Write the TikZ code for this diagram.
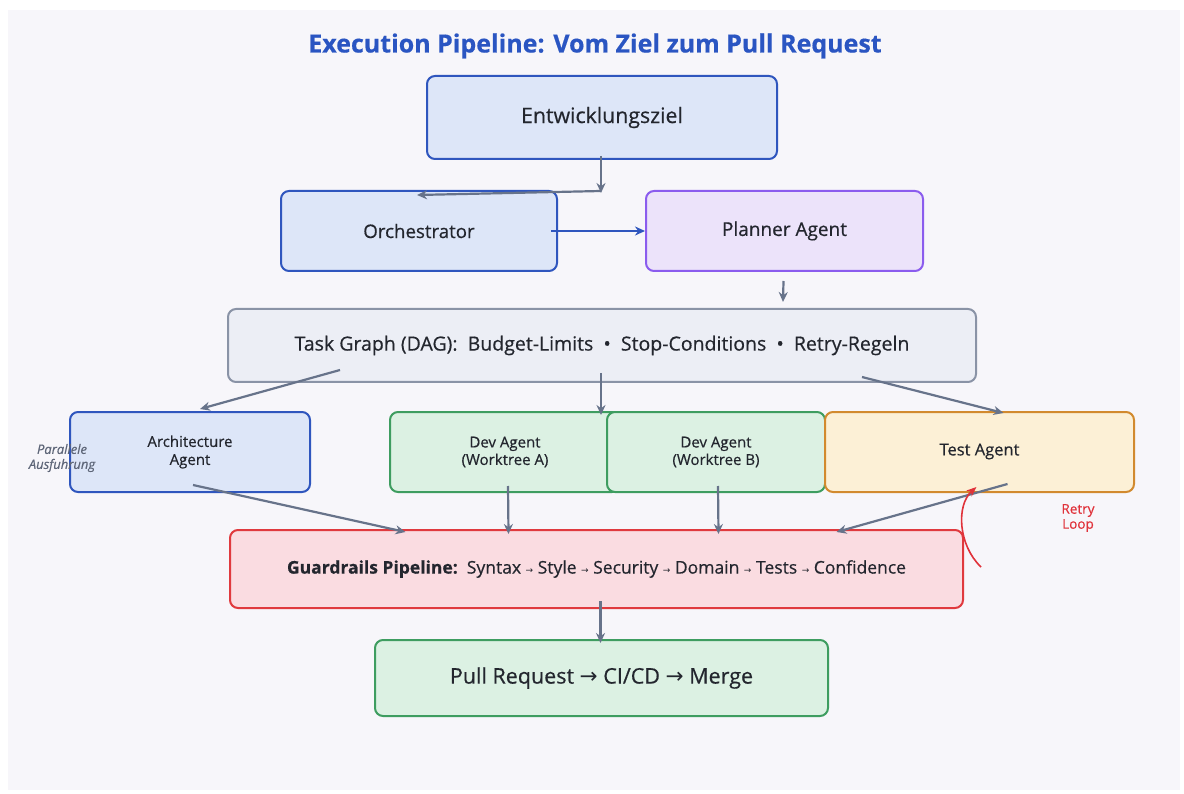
\documentclass[tikz,border=0pt]{standalone}
\usepackage{fontspec}
\setmainfont{Open Sans}[FakeBold=0.5]
\newfontfamily\symfont{DejaVu Sans}
\usetikzlibrary{arrows.meta,calc}

\definecolor{bgpanel}{HTML}{F7F6FA}
\definecolor{txt}{HTML}{23262E}
\definecolor{titleblue}{HTML}{2A55C2}
\definecolor{blueline}{HTML}{2F56BE}
\definecolor{bluefill}{HTML}{DDE6F8}
\definecolor{purpleline}{HTML}{8B5CEE}
\definecolor{purplefill}{HTML}{ECE3FA}
\definecolor{grayline}{HTML}{8A93A6}
\definecolor{grayfill}{HTML}{ECEEF5}
\definecolor{greenline}{HTML}{3E9D60}
\definecolor{greenfill}{HTML}{DCF1E3}
\definecolor{orangeline}{HTML}{D28A2E}
\definecolor{orangefill}{HTML}{FCF0D6}
\definecolor{redline}{HTML}{E03A3E}
\definecolor{redfill}{HTML}{FADCE1}
\definecolor{arrowgray}{HTML}{67738A}
\definecolor{loopred}{HTML}{E0323A}
\definecolor{notegray}{HTML}{5E6678}

\newcommand{\ra}{{\symfont\char"2192}}

\tikzset{
  box/.style={rounded corners=8pt, line width=2pt, align=center, text=txt,
              inner sep=0pt},
  bluebox/.style={box, draw=blueline, fill=bluefill},
  purplebox/.style={box, draw=purpleline, fill=purplefill},
  graybox/.style={box, draw=grayline, fill=grayfill},
  greenbox/.style={box, draw=greenline, fill=greenfill},
  orangebox/.style={box, draw=orangeline, fill=orangefill},
  redbox/.style={box, draw=redline, fill=redfill},
  flow/.style={draw=arrowgray, line width=2.2pt, -{Stealth[length=10pt,width=9pt]}},
  flowblue/.style={draw=blueline, line width=2.2pt, -{Stealth[length=10pt,width=9pt]}},
  loop/.style={draw=loopred, line width=1.6pt, -{Stealth[length=10pt,width=8pt]}},
}

\begin{document}
\begin{tikzpicture}[x=1pt, y=-1pt]
  % canvas
  \fill[white] (0,0) rectangle (1184,794);
  \fill[bgpanel] (8,10) rectangle (1180,790);
  \useasboundingbox (0,0) rectangle (1184,794);

  % title
  \node[text=titleblue, font=\bfseries\fontsize{25}{29}\selectfont] (title) at (595,46)
    {Execution Pipeline: Vom Ziel zum Pull Request};

  % boxes
  \node[bluebox, minimum width=350pt, minimum height=83pt,
        font=\fontsize{21.3}{25}\selectfont] (goal) at (602,117.5) {Entwicklungsziel};
  \node[bluebox, minimum width=276pt, minimum height=80pt,
        font=\fontsize{18.7}{22}\selectfont] (orch) at (419,231) {Orchestrator};
  \node[purplebox, minimum width=277pt, minimum height=80pt,
        font=\fontsize{19}{22}\selectfont] (plan) at (784.5,231) {Planner Agent};
  \node[graybox, minimum width=748pt, minimum height=73pt,
        font=\fontsize{19.5}{22}\selectfont] (task) at (602,345.5)
    {Task Graph (DAG):\ \ Budget-Limits\ \ •\ \ Stop-Conditions\ \ •\ \ Retry-Regeln};

  \node[bluebox, minimum width=240pt, minimum height=80pt,
        font=\fontsize{15}{18}\selectfont] (arch) at (190,452) {Architecture\\Agent};
  \node[greenbox, minimum width=230pt, minimum height=80pt,
        font=\fontsize{15}{17.5}\selectfont] (devA) at (505,452) {Dev Agent\\(Worktree A)};
  \node[greenbox, minimum width=218pt, minimum height=80pt,
        font=\fontsize{15}{17.5}\selectfont] (devB) at (716,452) {Dev Agent\\(Worktree B)};
  \node[orangebox, minimum width=309pt, minimum height=80pt,
        font=\fontsize{16.5}{20}\selectfont] (test) at (979.5,452)
    {\raisebox{5pt}{Test Agent}};

  \node[redbox, minimum width=733pt, minimum height=78pt,
        font=\fontsize{17.5}{20}\selectfont] (guard) at (596.5,569)
    {\textbf{Guardrails Pipeline:}\ \ Syntax {\small\ra} Style {\small\ra} Security {\small\ra} Domain {\small\ra} Tests {\small\ra} Confidence};
  \node[greenbox, minimum width=453pt, minimum height=76pt,
        font=\fontsize{21.5}{25}\selectfont] (pr) at (601.5,678)
    {Pull Request \ra{} CI/CD \ra{} Merge};

  % side notes
  \node[text=notegray, font=\itshape\fontsize{13}{15}\selectfont, align=center]
    (par) at (62,458) {Parallele\\Ausfuhrung};
  \node[text=loopred, font=\fontsize{13.5}{15}\selectfont, align=center]
    (retry) at (1078,518) {Retry\\Loop};

  % connectors
  \coordinate (split) at (601,191);
  \draw[flow] ([yshift=4pt]goal.south -| split) -- ([yshift=-2pt]split);
  \draw[flow] (split) -- ([yshift=-5pt]orch.north -| 417,0);
  \draw[flowblue] ([xshift=-7pt]orch.east) -- (plan.west);
  \draw[flow] ([xshift=-1pt,yshift=-9pt]plan.south) -- ([xshift=181pt,yshift=6pt]task.north);

  \draw[flow] ([xshift=-262pt,yshift=13pt]task.south) -- ([xshift=10pt,yshift=2pt]arch.north);
  \draw[flow] ([xshift=-1pt,yshift=10pt]task.south) -- ([xshift=96pt,yshift=-4pt]devA.north);
  \draw[flow] ([xshift=260pt,yshift=6pt]task.south) -- ([xshift=24pt,yshift=-2pt]test.north);

  \draw[flow] ([xshift=3pt,yshift=8pt]arch.south) -- ([xshift=-191pt,yshift=-3pt]guard.north);
  \draw[flow] ([xshift=3pt,yshift=7pt]devA.south) -- ([xshift=-88pt,yshift=-5pt]guard.north);
  \draw[flow] ([xshift=2pt,yshift=7pt]devB.south) -- ([xshift=122pt,yshift=-5pt]guard.north);
  \draw[flow] ([xshift=28pt,yshift=9pt]test.south) -- ([xshift=240pt,yshift=-3pt]guard.north);

  \draw[flow] ([xshift=4pt,yshift=8pt]guard.south) -- ([xshift=-1pt,yshift=-4pt]pr.north);

  % retry loop back into the test agent
  \coordinate (loopstart) at (981,567);
  \draw[loop] (loopstart) .. controls (958,545) and (956,505) .. ([xshift=-3pt,yshift=6pt]test.south);
\end{tikzpicture}
\end{document}
